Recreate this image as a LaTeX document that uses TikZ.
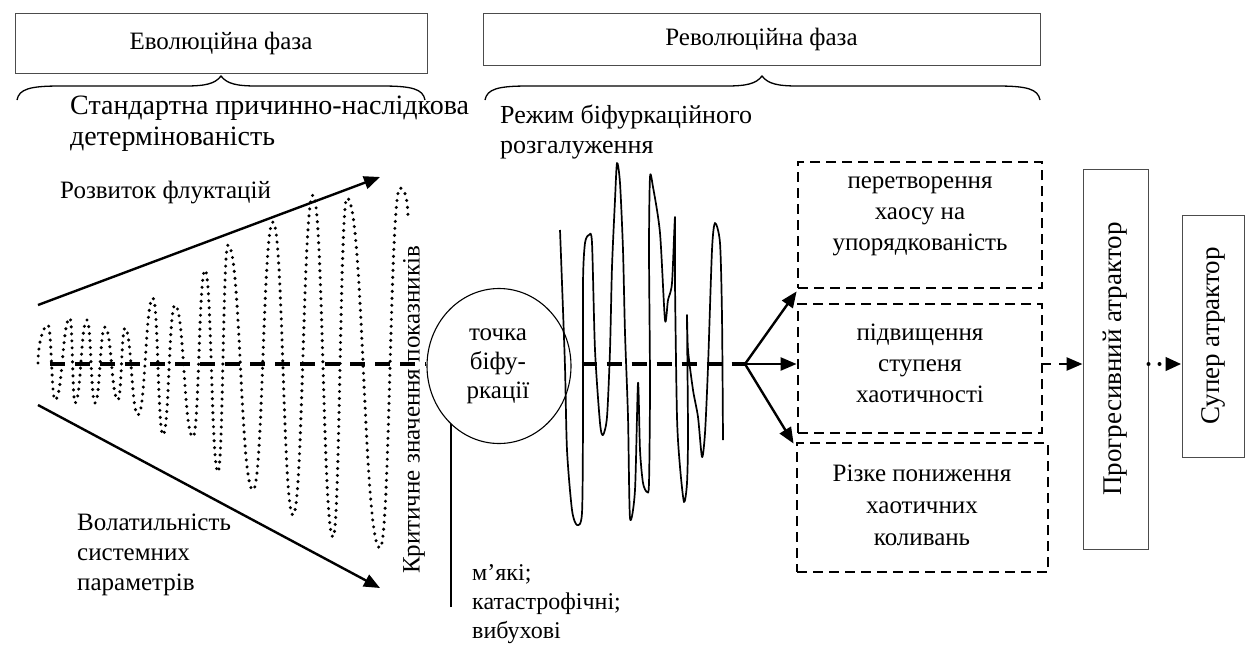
\documentclass[tikz,border=0pt]{standalone}
\usepackage{fontspec}
\setmainfont{Liberation Serif}
\usetikzlibrary{arrows.meta,shapes.geometric}
\tikzset{
 phasebox/.style={draw=black!70, line width=1pt, inner sep=0pt, font=\fontsize{25}{30}\selectfont},
 txt/.style={inner sep=0pt, font=\fontsize{25}{30}\selectfont},
 bigtxt/.style={inner sep=0pt, font=\fontsize{28}{31}\selectfont},
 dbox/.style={draw, line width=2.8pt, dash pattern=on 10pt off 6pt, inner sep=0pt},
 sbox/.style={draw=black!70, line width=1pt, inner sep=0pt},
 tipstyle/.style={-{Triangle[length=16pt,width=13pt]}},
 arrowline/.style={line width=2.4pt, tipstyle},
 bracestyle/.style={line width=1.3pt},
 dotwave/.style={line width=3.4pt, line cap=round, dash pattern=on 0pt off 7pt},
 centerdash/.style={line width=3.2pt, dash pattern=on 15pt off 10pt},
 wiggle/.style={line width=1.7pt, line join=round}
}
\begin{document}
\begin{tikzpicture}[x=1pt,y=-1pt]
\useasboundingbox (0,0) rectangle (1250,646);

% phase boxes and braces
\node[phasebox, minimum width=412pt, minimum height=60pt] (evo) at (221,43) {Еволюційна фаза};
\node[phasebox, minimum width=557pt, minimum height=52pt] (rev) at (761.5,39) {Революційна фаза};
\draw[bracestyle] (17,100) .. controls (19,89) and (30,86) .. (60,86) -- (185,86) .. controls (205,86) and (215,84) .. (221,76) .. controls (227,84) and (237,86) .. (257,86) -- (382,86) .. controls (412,86) and (423,89) .. (425,100);
\draw[bracestyle] (485,100) .. controls (487,89) and (498,86) .. (528,86) -- (726,86) .. controls (746,86) and (756,84) .. (762,76) .. controls (768,84) and (778,86) .. (798,86) -- (997,86) .. controls (1027,86) and (1038,89) .. (1040,100);

\node[bigtxt, anchor=west, align=left] (std) at (70,124) {Стандартна причинно-наслідкова\\детермінованість};
\node[txt, anchor=west, align=left, font=\fontsize{26}{30}\selectfont] (rez) at (500,132) {Режим біфуркаційного\\розгалуження};

% cone
\node[txt, anchor=west] (rozv) at (60,193) {Розвиток флуктацій};
\node[txt, anchor=west, align=left, font=\fontsize{25}{30}\selectfont] (vol) at (77,555) {Волатильність\\системних\\параметрів};
\coordinate (u0) at (38,305); \coordinate (u1) at (380,177);
\coordinate (l0) at (38,405); \coordinate (l1) at (380,588);
\draw[arrowline] (u0) -- (u1);
\draw[arrowline] (l0) -- (l1);

% dotted oscillation
\draw[dotwave] (38,363) .. controls (38,345) and (43,325) .. (48,325)
 .. controls (51.5,325) and (51.5,400) .. (55,400)
 .. controls (62.5,400) and (62.5,318) .. (70,318)
 .. controls (72.5,318) and (72.5,403) .. (75,403)
 .. controls (81,403) and (81,320) .. (87,320)
 .. controls (91,320) and (91,403) .. (95,403)
 .. controls (100,403) and (100,327) .. (105,327)
 .. controls (111.5,327) and (111.5,400) .. (118,400)
 .. controls (121.5,400) and (121.5,328) .. (125,328)
 .. controls (131.5,328) and (131.5,415) .. (138,415)
 .. controls (145.5,415) and (145.5,298) .. (153,298)
 .. controls (158,298) and (158,435) .. (163,435)
 .. controls (169,435) and (169,305) .. (175,305)
 .. controls (184,305) and (184,437) .. (193,437)
 .. controls (199,437) and (199,270) .. (205,270)
 .. controls (211.5,270) and (211.5,472) .. (218,472)
 .. controls (223,472) and (223,245) .. (228,245)
 .. controls (240.5,245) and (240.5,490) .. (253,490)
 .. controls (263,490) and (263,222) .. (273,222)
 .. controls (283,222) and (283,515) .. (293,515)
 .. controls (303,515) and (303,195) .. (313,195)
 .. controls (323,195) and (323,537) .. (333,537)
 .. controls (340,537) and (340,198) .. (347,198)
 .. controls (363.5,198) and (363.5,548) .. (380,548)
 .. controls (390,548) and (390,188) .. (400,188)
 .. controls (405,188) and (408,200) .. (408,220);

% bifurcation point
\node[ellipse, draw, line width=1.1pt, minimum width=144pt, minimum height=155pt, inner sep=0pt] (circ) at (499,366) {};
\node[txt, align=center, font=\fontsize{25}{29}\selectfont] (circtxt) at (498,366) {точка\\біфу-\\ркації};
\coordinate (c0) at (50,364);
\coordinate (br) at (745,364);
\draw[centerdash] (c0) -- (c0 -| circ.west);
\draw[centerdash] ([xshift=10pt]circ.east |- c0) -- (br);
\node[txt, rotate=90] (krit) at (414,410) {Критичне значення показників};

\coordinate (v1) at (451,607);
\draw[line width=1.6pt] (v1) -- (v1 |- circ.230);
\node[txt, anchor=west, align=left, font=\fontsize{24}{29}\selectfont] (kinds) at (472,604) {м’які;\\катастрофічні;\\вибухові};

% chaotic line
\draw[wiggle] plot[smooth, tension=0.45] coordinates {
(560,230) (562,283) (565,367) (567,450) (572,510) (577,525) (582,513) (583,417) (583,283) (585,243) (589,235) (592,243) (595,350) (600,423) (603,435) (607,417) (610,350) (612,267) (615,200) (617,163) (620,183) (623,250) (625,333) (628,417) (630,518) (635,490) (638,383) (640,450) (643,483) (647,492) (649,483) (650,383) (649,250) (650,177) (653,187) (660,233) (665,320) (668,300) (672,283) (675,217) (675,283) (677,417) (680,467) (684,502) (687,483) (688,433) (687,317) (688,350) (693,390) (698,417) (702,457) (705,433) (708,367) (712,250) (715,223) (720,243) (722,317) (723,440)};

% outcome boxes
\node[dbox, minimum width=244pt, minimum height=126pt] (ba) at (920,225) {};
\node[dbox, minimum width=244pt, minimum height=129pt] (bb) at (920,368.5) {};
\node[dbox, minimum width=251pt, minimum height=129pt] (bc) at (922.5,507.5) {};
\node[txt, align=center, font=\fontsize{25}{31}\selectfont] (tA) at (920,216) {перетворення\\хаосу на\\упорядкованість};
\node[txt, align=center, font=\fontsize{25}{31}\selectfont] (tB) at (920,363) {підвищення\\ступеня\\хаотичності};
\node[txt, align=center, font=\fontsize{25}{32}\selectfont] (tC) at (922,505) {Різке пониження\\хаотичних\\коливань};

\draw[arrowline] (br) -- ([yshift=-2pt]ba.south west);
\draw[arrowline] (br) -- (br -| bb.west);
\draw[arrowline] (br) -- ([xshift=-2pt,yshift=-2pt]bc.north west);

% attractors
\node[sbox, minimum width=65pt, minimum height=380pt] (prog) at (1115.5,359) {};
\node[txt, rotate=90, font=\fontsize{27}{30}\selectfont] (progt) at (prog.center) {Прогресивний атрактор};
\node[sbox, minimum width=62pt, minimum height=242pt] (sup) at (1213,336) {};
\node[txt, rotate=90, font=\fontsize{27}{30}\selectfont] (supt) at (sup.center) {Супер атрактор};

\draw[line width=2.6pt, dash pattern=on 8pt off 8pt, tipstyle] (bb.east |- br) -- (prog.west |- br);
\draw[line width=4pt, line cap=round, dash pattern=on 0pt off 11pt, tipstyle] (prog.east |- br) -- (sup.west |- br);
\end{tikzpicture}
\end{document}
